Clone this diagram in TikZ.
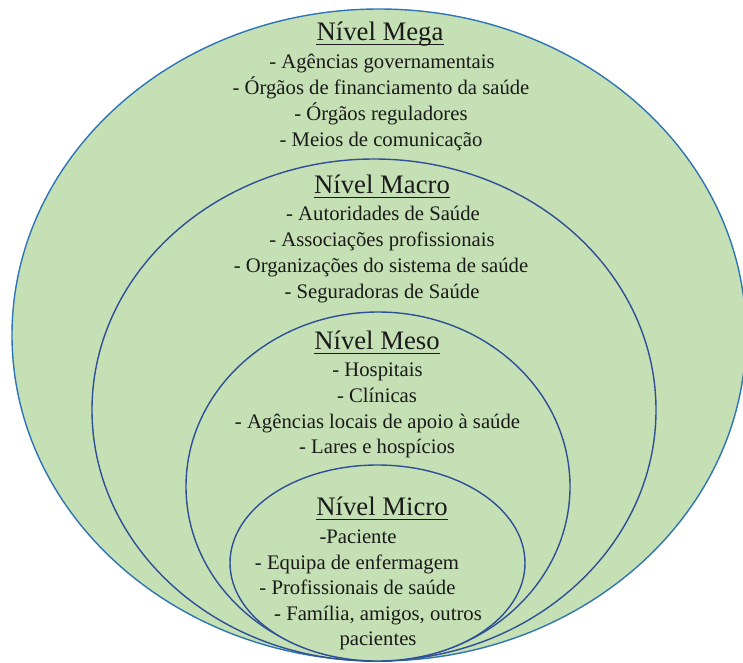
\documentclass[tikz,border=0pt]{standalone}
\usepackage{fontspec}
\setmainfont{Liberation Serif}
\definecolor{fillgreen}{HTML}{C5E0B4}
\definecolor{outerblue}{HTML}{2E75B6}
\definecolor{innerblue}{HTML}{2F4F96}
\definecolor{txt}{HTML}{1A1A1A}
\tikzset{
  ring/.style={fill=fillgreen, draw=innerblue, line width=1.4pt},
  outerring/.style={fill=fillgreen, draw=outerblue, line width=1.4pt},
  title/.style={anchor=base, inner sep=0pt, text=txt, font=\fontsize{26.7}{30}\selectfont},
  item/.style={anchor=base, inner sep=0pt, text=txt, font=\fontsize{20.7}{25}\selectfont},
  uline/.style={draw=txt, line width=1.2pt}
}
\begin{document}
\begin{tikzpicture}[x=1pt,y=-1pt]
\useasboundingbox (0,0) rectangle (743,662);
\begin{scope}
\clip (0,0) rectangle (743,662);
% ellipses
\draw[outerring] (379,335) ellipse [x radius=367, y radius=326];
\draw[ring] (374,410) ellipse [x radius=282, y radius=251];
\draw[ring] (378,486.5) ellipse [x radius=192, y radius=174.5];
\draw[ring] (377.5,563) ellipse [x radius=147.5, y radius=98];
\end{scope}
% Mega
\node[title] (tmega) at (380,40) {Nível Mega};
\node[item] (mg1) at (382,68) {- Agências governamentais};
\node[item] (mg2) at (381,94) {- Órgãos de financiamento da saúde};
\node[item] (mg3) at (381,120) {- Órgãos reguladores};
\node[item] (mg4) at (381,146) {- Meios de comunicação};
% Macro
\node[title] (tmacro) at (382,193) {Nível Macro};
\node[item] (ma1) at (383,220) {- Autoridades de Saúde};
\node[item] (ma2) at (382,246) {- Associações profissionais};
\node[item] (ma3) at (381,272) {- Organizações do sistema de saúde};
\node[item] (ma4) at (382,298) {- Seguradoras de Saúde};
% Meso
\node[title] (tmeso) at (377,349) {Nível Meso};
\node[item] (me1) at (377.5,376) {- Hospitais};
\node[item] (me2) at (377,402) {- Clínicas};
\node[item] (me3) at (377.5,428) {- Agências locais de apoio à saúde};
\node[item] (me4) at (377,453) {- Lares e hospícios};
% Micro
\node[title] (tmicro) at (382,515) {Nível Micro};
\node[item] (mi1) at (358,543) {-Paciente};
\node[item] (mi2) at (357,569) {- Equipa de enfermagem};
\node[item] (mi3) at (357.5,594) {- Profissionais de saúde};
\node[item] (mi4) at (378,620) {- Família, amigos, outros};
\node[item] (mi5) at (378,645) {pacientes};
% underlines
\foreach \t in {tmega,tmacro,tmeso,tmicro}
  \draw[uline] ([yshift=-4.5pt]\t.base west) -- ([yshift=-4.5pt]\t.base east);
\end{tikzpicture}
\end{document}
